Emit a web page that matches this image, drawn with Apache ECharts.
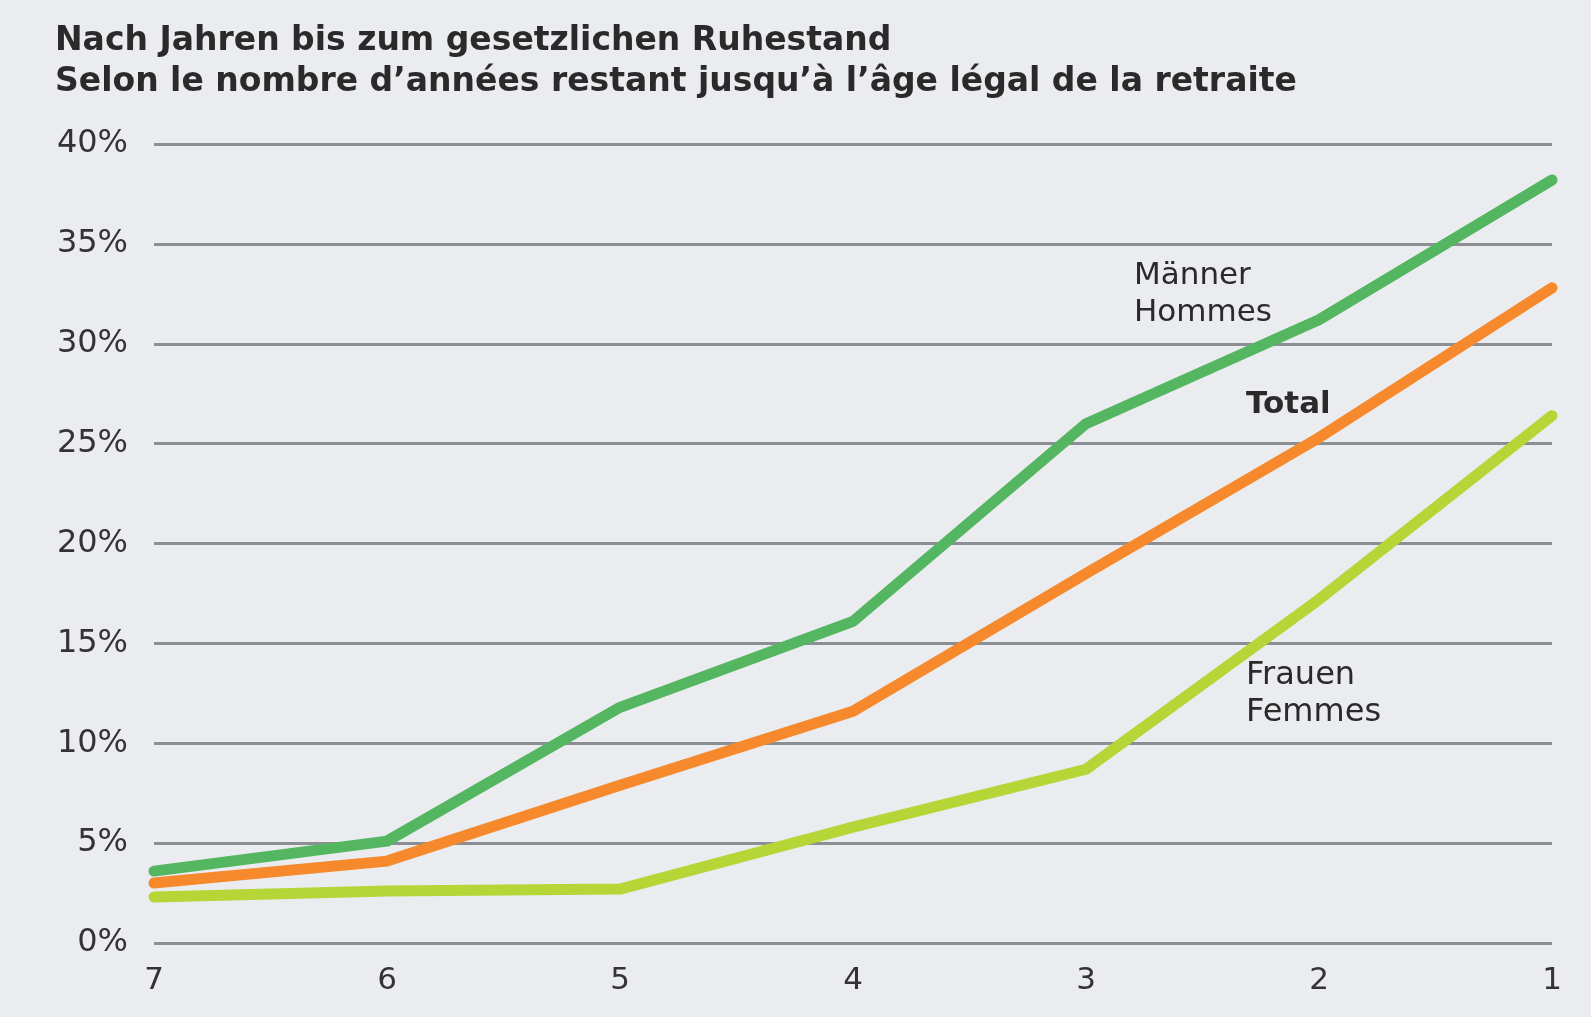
<!DOCTYPE html>
<html>
<head>
<meta charset="utf-8">
<script src="https://cdn.jsdelivr.net/npm/echarts@6/dist/echarts.min.js"></script>
<style>
  html, body { margin: 0; padding: 0; background: #eaecef; }
  #chart { width: 1591px; height: 1017px; }
</style>
</head>
<body>
<div id="chart"></div>
<script>
// Jahre bis zum Ruhestand
var jahre = ['7', '6', '5', '4', '3', '2', '1'];

// Anteile in %
var maenner = [3.6, 5.1, 11.8, 16.1, 26.0, 31.2, 38.2];
var total   = [3.0, 4.1, 7.9, 11.6, 18.5, 25.3, 32.8];
var frauen  = [2.3, 2.6, 2.7, 5.8, 8.7, 17.2, 26.4];

var yMin = 0, yMax = 40, yStep = 5;

var fontFam = '"DejaVu Sans", "Liberation Sans", sans-serif';

var myChart = echarts.init(document.getElementById('chart'), null, {renderer: 'canvas'});

function serie(name, data, color) {
  return {
    name: name,
    type: 'line',
    data: data,
    symbol: 'none',
    smooth: false,
    lineStyle: { width: 11, color: color, cap: 'round', join: 'round' },
    z: 3
  };
}

var option = {
  backgroundColor: '#eaecef',
  animation: false,
  title: {
    text: 'Nach Jahren bis zum gesetzlichen Ruhestand\nSelon le nombre d\u2019ann\u00e9es restant jusqu\u2019\u00e0 l\u2019\u00e2ge l\u00e9gal de la retraite',
    left: 50,
    top: 16,
    textStyle: {
      fontFamily: fontFam,
      fontWeight: 'bold',
      fontSize: 33,
      lineHeight: 41,
      color: '#2a2a2a'
    }
  },
  grid: { left: 154, right: 39, top: 144, bottom: 74, containLabel: false },
  xAxis: {
    type: 'category',
    data: jahre,
    boundaryGap: false,
    axisLine: { show: false },
    axisTick: { show: false },
    axisLabel: { margin: 22, fontSize: 31, color: '#333', fontFamily: fontFam }
  },
  yAxis: {
    type: 'value',
    min: yMin,
    max: yMax,
    interval: yStep,
    axisLine: { show: false },
    axisTick: { show: false },
    axisLabel: { formatter: '{value}%', margin: 26, fontSize: 32, color: '#333', fontFamily: fontFam },
    splitLine: { lineStyle: { color: '#8b8e93', width: 3 } }
  },
  series: [
    serie('Frauen', frauen, '#b6d536'),
    serie('Total', total, '#f5892c'),
    serie('M\u00e4nner', maenner, '#54b661')
  ],
  graphic: [
    {
      type: 'text', left: 1134, top: 257, z: 10,
      style: { text: 'M\u00e4nner\nHommes', fontSize: 31, lineHeight: 37, fill: '#2a2a2a', fontFamily: fontFam }
    },
    {
      type: 'text', left: 1246, top: 389, z: 10,
      style: { text: 'Total', fontSize: 31, fontWeight: 'bold', fill: '#2a2a2a', fontFamily: fontFam }
    },
    {
      type: 'text', left: 1246, top: 657, z: 10,
      style: { text: 'Frauen\nFemmes', fontSize: 32, lineHeight: 37, fill: '#2a2a2a', fontFamily: fontFam }
    }
  ]
};

myChart.setOption(option);
</script>
</body>
</html>
